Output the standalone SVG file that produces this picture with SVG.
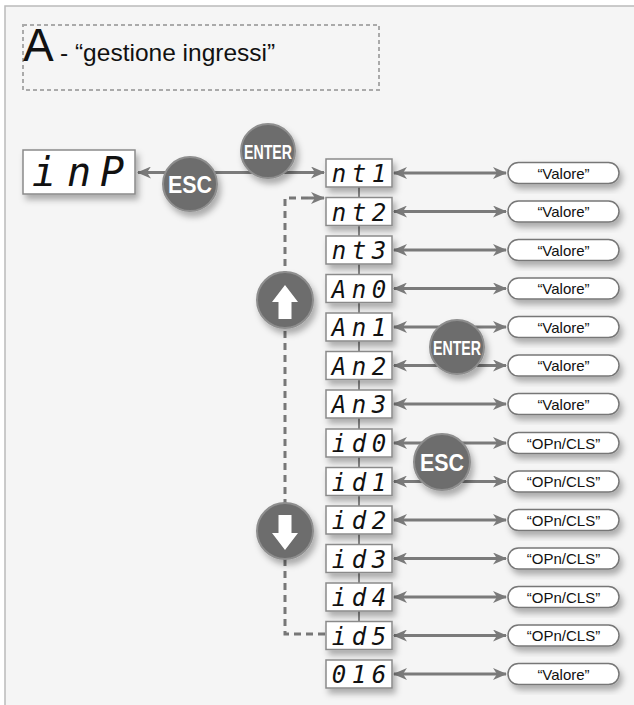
<svg xmlns="http://www.w3.org/2000/svg" width="634" height="705" viewBox="0 0 634 705">
<style>
.bg{fill:#f5f5f5;stroke:#bbbbbb;stroke-width:1.5}
.title{fill:none;stroke:#aaaaaa;stroke-width:2;stroke-dasharray:4 3}
.disp{fill:#ffffff;stroke:#8a8a8a;stroke-width:1.5;filter:url(#sh)}
.dt{font-family:"DejaVu Sans Mono",monospace;font-style:oblique;font-size:24px;fill:#111;text-anchor:middle}
.dtb{font-family:"DejaVu Sans Mono",monospace;font-style:oblique;font-size:40px;fill:#111;text-anchor:middle}
.pill{fill:#ffffff;stroke:#777777;stroke-width:1.5;filter:url(#sh)}
.pt{font-family:"Liberation Sans",Arial,sans-serif;font-size:15px;fill:#111;text-anchor:middle}
.ln{stroke:#7a7a7a;stroke-width:3;fill:none}
.vl{stroke:#8a8a8a;stroke-width:2;fill:none}
.dash{stroke:#777777;stroke-width:3;fill:none;stroke-dasharray:7 5}
.btn{fill:#6d6d6d;stroke:#8e8e8e;stroke-width:2;filter:url(#sh)}
.bt{font-family:"Liberation Sans",Arial,sans-serif;font-weight:bold;fill:#ffffff;text-anchor:middle}
</style>
<defs>
<filter id="sh" x="-30%" y="-40%" width="170%" height="190%">
<feDropShadow dx="3" dy="5" stdDeviation="3" flood-color="#000" flood-opacity="0.3"/>
</filter>
<marker id="ah" viewBox="0 0 14 12" refX="13" refY="6" markerWidth="14" markerHeight="12" orient="auto-start-reverse" markerUnits="userSpaceOnUse">
<path d="M0,0 L14,6 L0,12 L4,6 z" fill="#7a7a7a"/>
</marker>
</defs>
<rect class="bg" x="5" y="6" width="640" height="710"/>
<g id="title">
<rect class="title" x="23" y="25" width="356" height="65"/>
<text x="23" y="61" font-family="Liberation Sans, Arial, sans-serif" font-size="46" fill="#111">A</text>
<text x="60" y="61" font-family="Liberation Sans, Arial, sans-serif" font-size="24.5" fill="#111">- “gestione ingressi”</text>
</g>
<g id="connectors">
<line class="vl" x1="359" y1="187" x2="359" y2="622"/>
<line class="ln" x1="138" y1="172.5" x2="324" y2="172.5" marker-start="url(#ah)" marker-end="url(#ah)"/>
<line class="ln" x1="394" y1="173" x2="506" y2="173" marker-start="url(#ah)" marker-end="url(#ah)"/>
<line class="ln" x1="394" y1="211.5" x2="506" y2="211.5" marker-start="url(#ah)" marker-end="url(#ah)"/>
<line class="ln" x1="394" y1="250" x2="506" y2="250" marker-start="url(#ah)" marker-end="url(#ah)"/>
<line class="ln" x1="394" y1="288.5" x2="506" y2="288.5" marker-start="url(#ah)" marker-end="url(#ah)"/>
<line class="ln" x1="394" y1="327" x2="506" y2="327" marker-start="url(#ah)" marker-end="url(#ah)"/>
<line class="ln" x1="394" y1="365.5" x2="506" y2="365.5" marker-start="url(#ah)" marker-end="url(#ah)"/>
<line class="ln" x1="394" y1="404" x2="506" y2="404" marker-start="url(#ah)" marker-end="url(#ah)"/>
<line class="ln" x1="394" y1="443" x2="506" y2="443" marker-start="url(#ah)" marker-end="url(#ah)"/>
<line class="ln" x1="394" y1="481.5" x2="506" y2="481.5" marker-start="url(#ah)" marker-end="url(#ah)"/>
<line class="ln" x1="394" y1="520" x2="506" y2="520" marker-start="url(#ah)" marker-end="url(#ah)"/>
<line class="ln" x1="394" y1="558.5" x2="506" y2="558.5" marker-start="url(#ah)" marker-end="url(#ah)"/>
<line class="ln" x1="394" y1="597" x2="506" y2="597" marker-start="url(#ah)" marker-end="url(#ah)"/>
<line class="ln" x1="394" y1="635.5" x2="506" y2="635.5" marker-start="url(#ah)" marker-end="url(#ah)"/>
<line class="ln" x1="394" y1="674" x2="506" y2="674" marker-start="url(#ah)" marker-end="url(#ah)"/>
<path class="dash" d="M325,634 H285 V198 H310"/>
<line class="ln" x1="308" y1="198" x2="324" y2="198" stroke-width="2.5" marker-end="url(#ah)"/>
</g>
<g id="inp">
<rect class="disp" x="23" y="150" width="112" height="44"/>
<text class="dtb" x="44 79 112" y="186">inP</text>
</g>
<g id="n-nt1"><rect class="disp" x="326" y="159" width="66" height="28"/><text class="dt" x="339 359 379" y="182">nt1</text></g>
<g id="n-nt2"><rect class="disp" x="326" y="197.5" width="66" height="28"/><text class="dt" x="339 359 379" y="220.5">nt2</text></g>
<g id="n-nt3"><rect class="disp" x="326" y="236" width="66" height="28"/><text class="dt" x="339 359 379" y="259">nt3</text></g>
<g id="n-an0"><rect class="disp" x="326" y="274.5" width="66" height="28"/><text class="dt" x="339 359 379" y="297.5">An0</text></g>
<g id="n-an1"><rect class="disp" x="326" y="313" width="66" height="28"/><text class="dt" x="339 359 379" y="336">An1</text></g>
<g id="n-an2"><rect class="disp" x="326" y="351.5" width="66" height="28"/><text class="dt" x="339 359 379" y="374.5">An2</text></g>
<g id="n-an3"><rect class="disp" x="326" y="390" width="66" height="28"/><text class="dt" x="339 359 379" y="413">An3</text></g>
<g id="n-id0"><rect class="disp" x="326" y="429" width="66" height="28"/><text class="dt" x="339 359 379" y="452">id0</text></g>
<g id="n-id1"><rect class="disp" x="326" y="467.5" width="66" height="28"/><text class="dt" x="339 359 379" y="490.5">id1</text></g>
<g id="n-id2"><rect class="disp" x="326" y="506" width="66" height="28"/><text class="dt" x="339 359 379" y="529">id2</text></g>
<g id="n-id3"><rect class="disp" x="326" y="544.5" width="66" height="28"/><text class="dt" x="339 359 379" y="567.5">id3</text></g>
<g id="n-id4"><rect class="disp" x="326" y="583" width="66" height="28"/><text class="dt" x="339 359 379" y="606">id4</text></g>
<g id="n-id5"><rect class="disp" x="326" y="621.5" width="66" height="28"/><text class="dt" x="339 359 379" y="644.5">id5</text></g>
<g id="n-016"><rect class="disp" x="326" y="660" width="66" height="28"/><text class="dt" x="339 359 379" y="683">016</text></g>
<g id="p1"><rect class="pill" x="508" y="162.5" width="111" height="21" rx="10.5"/><text class="pt" x="563.5" y="178.5">“Valore”</text></g>
<g id="p2"><rect class="pill" x="508" y="201" width="111" height="21" rx="10.5"/><text class="pt" x="563.5" y="217">“Valore”</text></g>
<g id="p3"><rect class="pill" x="508" y="239.5" width="111" height="21" rx="10.5"/><text class="pt" x="563.5" y="255.5">“Valore”</text></g>
<g id="p4"><rect class="pill" x="508" y="278" width="111" height="21" rx="10.5"/><text class="pt" x="563.5" y="294">“Valore”</text></g>
<g id="p5"><rect class="pill" x="508" y="316.5" width="111" height="21" rx="10.5"/><text class="pt" x="563.5" y="332.5">“Valore”</text></g>
<g id="p6"><rect class="pill" x="508" y="355" width="111" height="21" rx="10.5"/><text class="pt" x="563.5" y="371">“Valore”</text></g>
<g id="p7"><rect class="pill" x="508" y="393.5" width="111" height="21" rx="10.5"/><text class="pt" x="563.5" y="409.5">“Valore”</text></g>
<g id="p8"><rect class="pill" x="508" y="432.5" width="111" height="21" rx="10.5"/><text class="pt" x="563.5" y="448.5">“OPn/CLS”</text></g>
<g id="p9"><rect class="pill" x="508" y="471" width="111" height="21" rx="10.5"/><text class="pt" x="563.5" y="487">“OPn/CLS”</text></g>
<g id="p10"><rect class="pill" x="508" y="509.5" width="111" height="21" rx="10.5"/><text class="pt" x="563.5" y="525.5">“OPn/CLS”</text></g>
<g id="p11"><rect class="pill" x="508" y="548" width="111" height="21" rx="10.5"/><text class="pt" x="563.5" y="564">“OPn/CLS”</text></g>
<g id="p12"><rect class="pill" x="508" y="586.5" width="111" height="21" rx="10.5"/><text class="pt" x="563.5" y="602.5">“OPn/CLS”</text></g>
<g id="p13"><rect class="pill" x="508" y="625" width="111" height="21" rx="10.5"/><text class="pt" x="563.5" y="641">“OPn/CLS”</text></g>
<g id="p14"><rect class="pill" x="508" y="663.5" width="111" height="21" rx="10.5"/><text class="pt" x="563.5" y="679.5">“Valore”</text></g>
<g id="enter1"><circle class="btn" cx="268" cy="151" r="27"/><text class="bt" x="268" y="159" font-size="21" textLength="48" lengthAdjust="spacingAndGlyphs">ENTER</text></g>
<g id="esc1"><circle class="btn" cx="190" cy="184" r="27"/><text class="bt" x="190" y="192.5" font-size="23" textLength="44" lengthAdjust="spacingAndGlyphs">ESC</text></g>
<g id="enter2"><circle class="btn" cx="457" cy="347" r="27"/><text class="bt" x="457" y="355" font-size="21" textLength="48" lengthAdjust="spacingAndGlyphs">ENTER</text></g>
<g id="esc2"><circle class="btn" cx="442" cy="462" r="28"/><text class="bt" x="442" y="470.5" font-size="23" textLength="44" lengthAdjust="spacingAndGlyphs">ESC</text></g>
<g id="up"><circle class="btn" cx="285" cy="300" r="28"/><path d="M285,285 L298,302 L291.5,302 L291.5,319 L278.5,319 L278.5,302 L272,302 z" fill="#ffffff"/></g>
<g id="down"><circle class="btn" cx="285" cy="531" r="28"/><path d="M285,550 L298,533 L291.5,533 L291.5,515 L278.5,515 L278.5,533 L272,533 z" fill="#ffffff"/></g>
</svg>
